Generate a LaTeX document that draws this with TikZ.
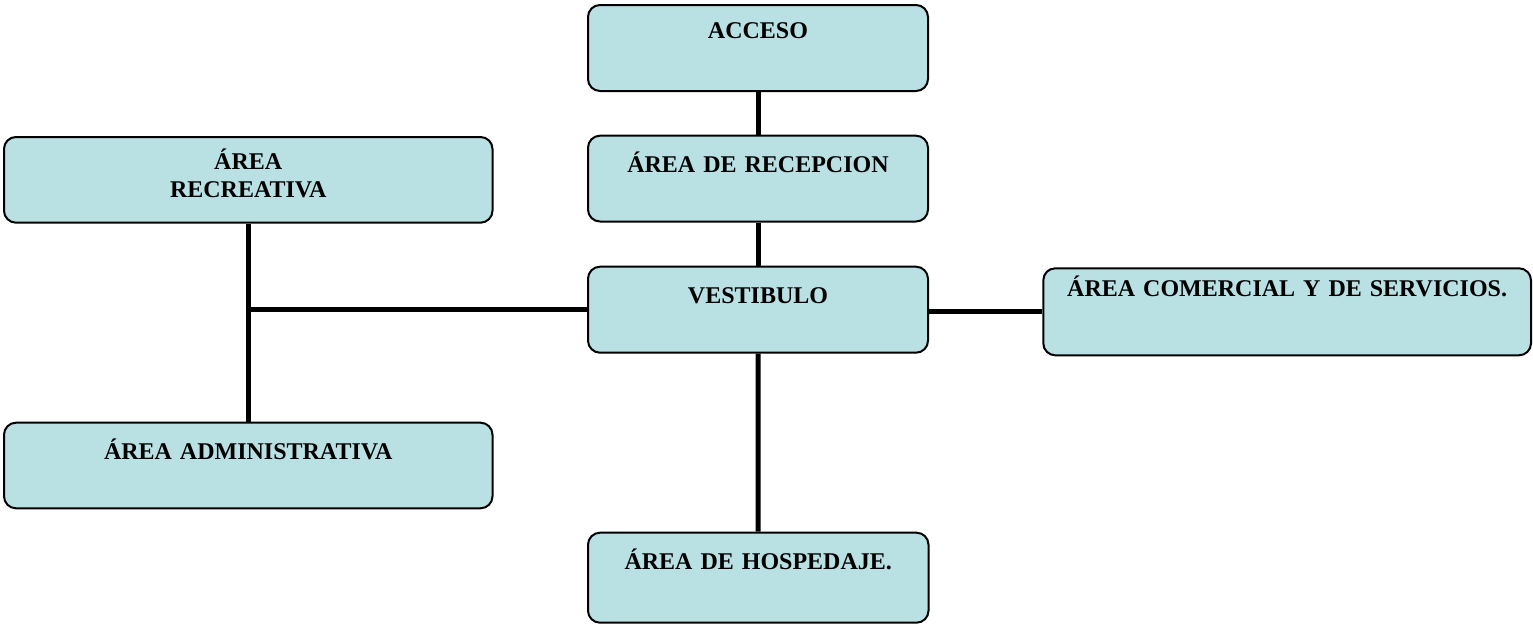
\documentclass[tikz,border=0pt]{standalone}
\usepackage{fontspec}
\setmainfont{Liberation Serif}
\definecolor{boxfill}{RGB}{185,224,227}
\tikzset{
  box/.style={draw=black, line width=2pt, rounded corners=12pt, fill=boxfill,
    inner sep=0pt, anchor=north west, align=center,
    font=\bfseries\fontsize{24}{28.4}\selectfont},
  link/.style={line width=5pt, draw=black}
}
\begin{document}
\begin{tikzpicture}[x=1pt,y=-1pt]
\useasboundingbox (0,0) rectangle (1533,629);
\node[box, text width=340pt, text height=33.7pt, text depth=52.3pt] (acceso) at (587,4) {ACCESO};
\node[box, text width=340pt, text height=36.3pt, text depth=49.5pt] (recepcion) at (587,134.7) {ÁREA DE RECEPCION};
\node[box, text width=340pt, text height=36.6pt, text depth=49.4pt] (vestibulo) at (587,265.7) {VESTIBULO};
\node[box, text width=340.5pt, text height=36.6pt, text depth=53.4pt] (hospedaje) at (587,531.7) {ÁREA DE HOSPEDAJE.};
\node[box, text width=487.7pt, text height=28.4pt, text depth=58.6pt] (comercial) at (1042.3,267.3) {ÁREA COMERCIAL Y DE SERVICIOS.};
\node[box, text width=488.5pt, text height=32.3pt, text depth=53.4pt] (recreativa) at (3,136) {ÁREA\\RECREATIVA};
\node[box, text width=488.5pt, text height=36.6pt, text depth=49pt] (administrativa) at (3,421.7) {ÁREA ADMINISTRATIVA};
\coordinate (junction) at (246.7,309);
\draw[link] (acceso) -- (recepcion);
\draw[link] (recepcion) -- (vestibulo);
\draw[link] (vestibulo) -- (hospedaje);
\draw[link] (vestibulo.west |- junction) -- (junction);
\draw[link] (recreativa) -- (administrativa);
\draw[link] (vestibulo.east |- comercial.west) -- (comercial.west);
\end{tikzpicture}
\end{document}
